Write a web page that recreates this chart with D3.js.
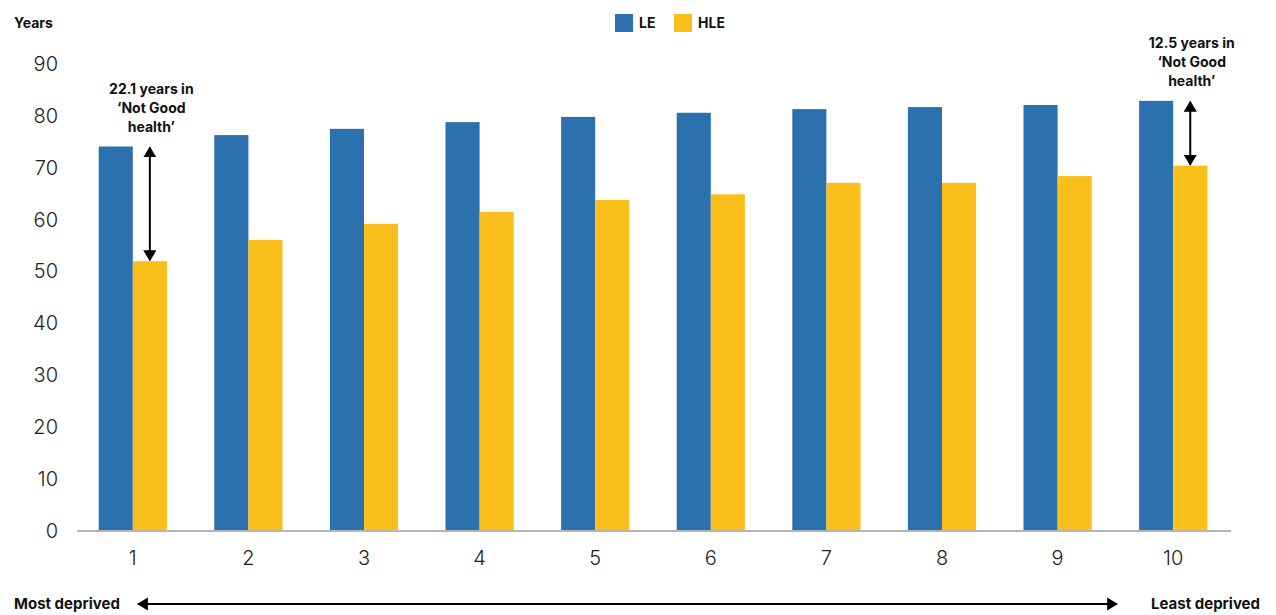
<!DOCTYPE html>
<html>
<head>
<meta charset="utf-8">
<script src="https://cdn.jsdelivr.net/npm/d3@7"></script>
<style>
  html, body { margin: 0; padding: 0; background: #fff; }
  svg { display: block; font-family: Inter, "Noto Sans", sans-serif; }
</style>
</head>
<body>
<svg id="chart" width="1276" height="615"></svg>
<script>
// Deprivation deciles (1 = most deprived, 10 = least deprived)
const deciles = ["1", "2", "3", "4", "5", "6", "7", "8", "9", "10"];
const seriesNames = ["LE", "HLE"];
// Life expectancy (years)
const leValues = [74.1, 76.3, 77.5, 78.8, 79.8, 80.6, 81.3, 81.7, 82.1, 82.9];
// Healthy life expectancy (years)
const hleValues = [52.0, 56.1, 59.2, 61.5, 63.8, 64.9, 67.1, 67.1, 68.4, 70.4];
const yTicks = [0, 10, 20, 30, 40, 50, 60, 70, 80, 90];
const gapNotes = [
  { decile: "1", lines: ["22.1 years in", "\u2018Not Good", "health\u2019"] },
  { decile: "10", lines: ["12.5 years in", "\u2018Not Good", "health\u2019"] }
];

const colors = { LE: "#2a71ae", HLE: "#fbbf1c" };

const svg = d3.select("#chart");

const x0 = d3.scaleBand()
  .domain(deciles)
  .range([75, 1231])
  .paddingInner(0.41)
  .paddingOuter(0.205);

const x1 = d3.scaleBand()
  .domain(seriesNames)
  .range([0, x0.bandwidth()]);

const y = d3.scaleLinear().domain([0, 90]).range([531, 64]);

const rows = deciles.map((d, i) => ({ decile: d, LE: leValues[i], HLE: hleValues[i] }));

// Arrow markers
const defs = svg.append("defs");
defs.append("marker")
  .attr("id", "head")
  .attr("viewBox", "0 0 10 12")
  .attr("refX", 9).attr("refY", 6)
  .attr("markerWidth", 5.5).attr("markerHeight", 6.6)
  .attr("markerUnits", "strokeWidth")
  .attr("orient", "auto-start-reverse")
  .append("path")
  .attr("d", "M0,0 L10,6 L0,12 Z")
  .attr("fill", "#000");

// Y axis labels (no axis line)
const yAxis = svg.append("g")
  .attr("transform", "translate(58,0)")
  .call(d3.axisLeft(y).tickValues(yTicks).tickSize(0).tickPadding(0));
yAxis.select(".domain").remove();
yAxis.selectAll("text")
  .attr("font-family", "Inter, sans-serif")
  .attr("font-size", 20)
  .attr("font-weight", 300)
  .attr("fill", "#222");

// Bars
const groups = svg.append("g").selectAll("g")
  .data(rows)
  .join("g")
  .attr("transform", d => `translate(${x0(d.decile)},0)`);

groups.selectAll("rect")
  .data(d => seriesNames.map(k => ({ key: k, value: d[k] })))
  .join("rect")
  .attr("x", d => x1(d.key))
  .attr("y", d => y(d.value))
  .attr("width", x1.bandwidth())
  .attr("height", d => y(0) - y(d.value))
  .attr("fill", d => colors[d.key]);

// X axis
const xAxis = svg.append("g")
  .attr("transform", `translate(0,${y(0)})`)
  .call(d3.axisBottom(x0).tickSize(0).tickPadding(20).tickSizeOuter(0));
xAxis.select(".domain")
  .attr("stroke", "#b5b5b5")
  .attr("stroke-width", 2)
  .attr("d", "M77,0H1231");
xAxis.selectAll("text")
  .attr("font-family", "Inter, sans-serif")
  .attr("font-size", 20)
  .attr("font-weight", 300)
  .attr("fill", "#222");

// Axis title
svg.append("text")
  .attr("x", 14).attr("y", 28)
  .attr("font-size", 14).attr("font-weight", 700)
  .attr("fill", "#111")
  .text("Years");

// Legend
const legend = svg.append("g");
const legendItems = [{ key: "LE", x: 615 }, { key: "HLE", x: 674 }];
legendItems.forEach(item => {
  legend.append("rect")
    .attr("x", item.x).attr("y", 14)
    .attr("width", 18).attr("height", 18)
    .attr("fill", colors[item.key]);
  legend.append("text")
    .attr("x", item.x + 24).attr("y", 28)
    .attr("font-size", 14).attr("font-weight", 700)
    .attr("fill", "#111")
    .text(item.key);
});

// Gap annotations: arrow between the LE and HLE heights, above the HLE bar
gapNotes.forEach(note => {
  const i = deciles.indexOf(note.decile);
  const cx = x0(note.decile) + x1("HLE") + x1.bandwidth() / 2;
  svg.append("line")
    .attr("x1", cx).attr("x2", cx)
    .attr("y1", y(leValues[i]) + 1)
    .attr("y2", y(hleValues[i]) - 1)
    .attr("stroke", "#000")
    .attr("stroke-width", 2)
    .attr("marker-start", "url(#head)")
    .attr("marker-end", "url(#head)");
  const tx = cx + 1.5;
  const baseY = y(leValues[i]) - 15;
  const t = svg.append("text")
    .attr("text-anchor", "middle")
    .attr("font-size", 14).attr("font-weight", 700)
    .attr("fill", "#111");
  note.lines.forEach((line, k) => {
    t.append("tspan")
      .attr("x", tx)
      .attr("y", baseY - (note.lines.length - 1 - k) * 19)
      .text(line);
  });
});

// Deprivation direction arrow along the bottom
svg.append("text")
  .attr("x", 14).attr("y", 609)
  .attr("font-size", 15).attr("font-weight", 700)
  .attr("fill", "#111")
  .text("Most deprived");
svg.append("text")
  .attr("x", 1260).attr("y", 609)
  .attr("text-anchor", "end")
  .attr("font-size", 15).attr("font-weight", 700)
  .attr("fill", "#111")
  .text("Least deprived");
svg.append("line")
  .attr("x1", 138).attr("x2", 1117)
  .attr("y1", 604).attr("y2", 604)
  .attr("stroke", "#000")
  .attr("stroke-width", 2)
  .attr("marker-start", "url(#head)")
  .attr("marker-end", "url(#head)");
</script>
</body>
</html>
